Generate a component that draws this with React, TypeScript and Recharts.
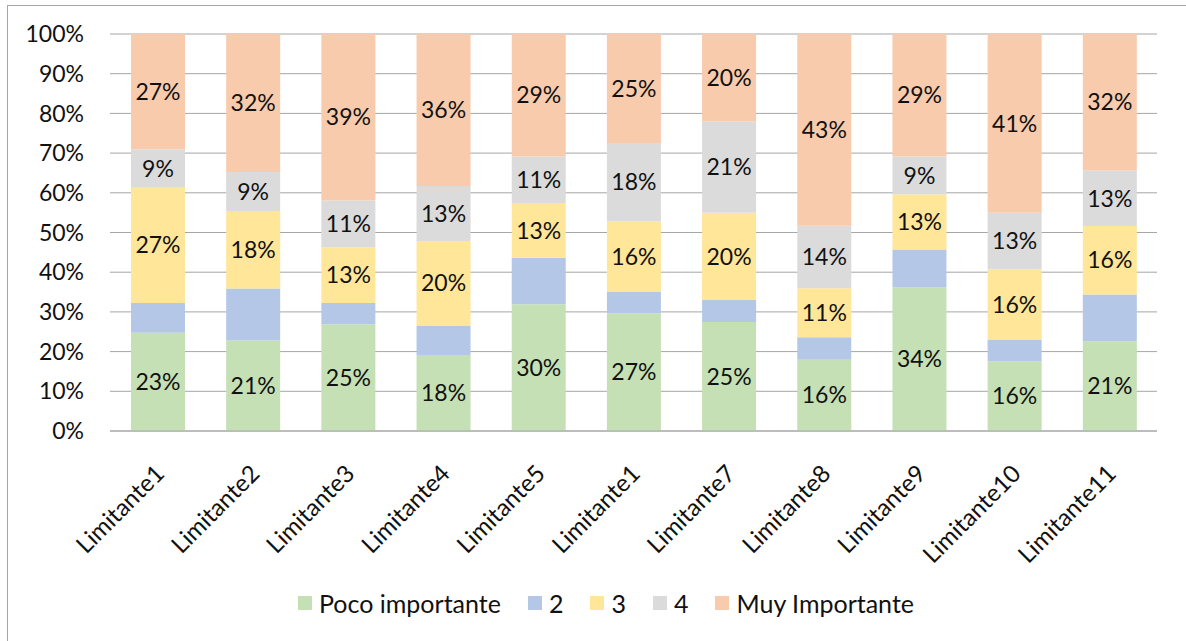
import React from "react"
import { BarChart, Bar, XAxis, YAxis, CartesianGrid, Legend, LabelList } from "recharts"

// values (percent of respondents per level)
const categories = [
  "Limitante1", "Limitante2", "Limitante3", "Limitante4", "Limitante5", "Limitante1",
  "Limitante7", "Limitante8", "Limitante9", "Limitante10", "Limitante11",
]
const poco = [23, 21, 25, 18, 30, 27, 25, 16, 34, 16, 21]
const dos = [7, 12, 5, 7, 11, 5, 5, 5, 9, 5, 11]
const tres = [27, 18, 13, 20, 13, 16, 20, 11, 13, 16, 16]
const cuatro = [9, 9, 11, 13, 11, 18, 21, 14, 9, 13, 13]
const muy = [27, 32, 39, 36, 29, 25, 20, 43, 29, 41, 32]

const yTicks = [0, 0.1, 0.2, 0.3, 0.4, 0.5, 0.6, 0.7, 0.8, 0.9, 1]

const series = [
  { key: "poco", name: "Poco importante", color: "#C5E0B4", label: true },
  { key: "dos", name: "2", color: "#B4C7E7", label: false },
  { key: "tres", name: "3", color: "#FFE699", label: true },
  { key: "cuatro", name: "4", color: "#DBDBDB", label: true },
  { key: "muy", name: "Muy Importante", color: "#F8CBAD", label: true },
]

const data = categories.map((name, i) => ({
  name,
  poco: poco[i],
  dos: dos[i],
  tres: tres[i],
  cuatro: cuatro[i],
  muy: muy[i],
}))

const FONT = "Lato, 'Open Sans', sans-serif"
const GRID = "#a6a6a6"

function AngledTick(props: any) {
  const { x, y, payload } = props
  const px = x - 4
  const py = y + 30
  return (
    <text
      x={px}
      y={py}
      dy="0.72em"
      textAnchor="end"
      transform={`rotate(-45 ${px} ${py})`}
      fontSize={24}
      fontFamily={FONT}
      fill="#111"
    >
      {payload.value}
    </text>
  )
}

function LegendRow() {
  return (
    <div
      style={{
        display: "flex",
        justifyContent: "center",
        alignItems: "center",
        gap: 27,
        height: 30,
        paddingLeft: 55,
        fontFamily: FONT,
        fontSize: 25,
        color: "#111",
      }}
    >
      {series.map((s) => (
        <div key={s.key} style={{ display: "flex", alignItems: "center" }}>
          <span style={{ width: 14, height: 14, background: s.color, marginRight: 7 }} />
          <span>{s.name}</span>
        </div>
      ))}
    </div>
  )
}

export default function App() {
  return (
    <div style={{ position: "absolute", left: 0, top: 0, width: 1186, height: 641, overflow: "hidden", background: "#fff" }}>
      <div
        style={{
          position: "absolute",
          left: 7,
          top: 5,
          width: 1300,
          height: 700,
          borderLeft: `1px solid ${GRID}`,
          borderTop: `1px solid ${GRID}`,
        }}
      />
      <BarChart
        width={1186}
        height={641}
        data={data}
        stackOffset="expand"
        barSize={54}
        margin={{ top: 34, right: 29, left: 0, bottom: 23 }}
        style={{ position: "absolute", left: 0, top: 0 }}
      >
        <CartesianGrid vertical={false} stroke={GRID} />
        <XAxis
          dataKey="name"
          interval={0}
          height={157}
          tickLine={false}
          tickSize={0}
          axisLine={{ stroke: GRID }}
          tick={<AngledTick />}
        />
        <YAxis
          width={110}
          ticks={yTicks}
          domain={[0, 1]}
          axisLine={false}
          tickLine={false}
          tickSize={0}
          tickMargin={26}
          tickFormatter={(v: number) => `${Math.round(v * 100)}%`}
          tick={{ fontSize: 23, fontFamily: FONT, fill: "#111" }}
        />
        <Legend verticalAlign="bottom" content={() => <LegendRow />} />
        {series.map((s) => (
          <Bar key={s.key} dataKey={s.key} name={s.name} stackId="a" fill={s.color} isAnimationActive={false}>
            {s.label && (
              <LabelList
                dataKey={s.key}
                position="center"
                formatter={(v: any) => `${v}%`}
                fill="#111"
                fontSize={23}
                fontFamily={FONT}
              />
            )}
          </Bar>
        ))}
      </BarChart>
    </div>
  )
}
